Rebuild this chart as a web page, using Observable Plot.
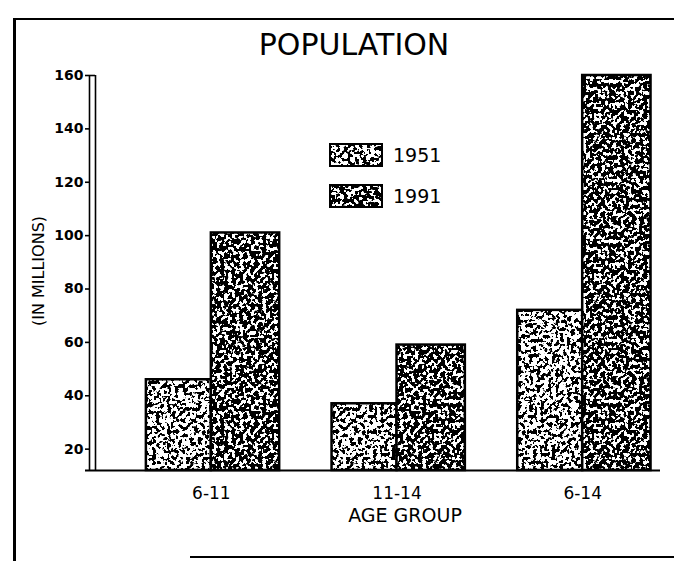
<!DOCTYPE html>
<html>
<head>
<meta charset="utf-8">
<script src="https://cdn.jsdelivr.net/npm/d3@7"></script>
<script src="https://cdn.jsdelivr.net/npm/@observablehq/plot@0.6"></script>
<style>
  html, body { margin: 0; padding: 0; background: #fff; }
  #wrap { position: relative; width: 674px; height: 561px; overflow: hidden; font-family: "DejaVu Sans", sans-serif; }
  #chart { position: absolute; left: 0; top: 0; }
  .bl { position: absolute; background: #000; }
  #legend { position: absolute; left: 329px; top: 143px; font-size: 19px; color: #000; }
  #legend .row { display: flex; align-items: center; height: 24px; margin-bottom: 17px; }
  #legend svg { display: block; margin-right: 10px; }
</style>
</head>
<body>
<svg width="0" height="0" style="position:absolute">
  <defs>
    <filter id="f1951" x="0" y="0" width="1" height="1" color-interpolation-filters="sRGB">
      <feTurbulence type="fractalNoise" baseFrequency="0.26" numOctaves="2" seed="4" stitchTiles="stitch"/>
      <feColorMatrix type="matrix" values="0 0 0 0 0  0 0 0 0 0  0 0 0 0 0  -40 0 0 0 19.4"/>
    </filter>
    <filter id="f1991" x="0" y="0" width="1" height="1" color-interpolation-filters="sRGB">
      <feTurbulence type="fractalNoise" baseFrequency="0.26" numOctaves="2" seed="9" stitchTiles="stitch"/>
      <feColorMatrix type="matrix" values="0 0 0 0 0  0 0 0 0 0  0 0 0 0 0  -40 0 0 0 21.8"/>
    </filter>
    <pattern id="pat1951" patternUnits="userSpaceOnUse" width="160" height="160">
      <rect width="160" height="160" fill="#fff"/>
      <rect width="160" height="160" filter="url(#f1951)"/>
    </pattern>
    <pattern id="pat1991" patternUnits="userSpaceOnUse" width="160" height="160">
      <rect width="160" height="160" fill="#fff"/>
      <rect width="160" height="160" filter="url(#f1991)"/>
    </pattern>
  </defs>
</svg>
<div id="wrap">
  <div id="chart"></div>
  <div class="bl" style="left:13px;top:18px;width:3px;height:543px"></div>
  <div class="bl" style="left:13px;top:18px;width:661px;height:2px"></div>
  <div class="bl" style="left:190px;top:556px;width:484px;height:2px"></div>
  <div id="legend"></div>
</div>
<script>
// ---- data ----
const groups = ["6-11", "11-14", "6-14"];
const years = ["1951", "1991"];
const pop1951 = [46, 37, 72];
const pop1991 = [101, 59, 160];
const yTicks = [20, 40, 60, 80, 100, 120, 140, 160];
const yAxisStart = 12;
const title = "POPULATION";
const yLabel = "(IN MILLIONS)";
const xLabel = "AGE GROUP";
const fills = {"1951": "url(#pat1951)", "1991": "url(#pat1991)"};

// ---- table built from arrays ----
const w1951 = 0.35, w1991 = 0.368;
const rows = groups.flatMap((g, i) => [
  {group: g, i, year: "1951", x1: i - w1951, x2: i, value: pop1951[i]},
  {group: g, i, year: "1991", x1: i, x2: i + w1991, value: pop1991[i]}
]);
const xDomain = [-0.624, 2.419];

const chart = Plot.plot({
  width: 674,
  height: 561,
  marginTop: 75,
  marginBottom: 91,
  marginLeft: 95,
  marginRight: 14,
  style: {background: "transparent", fontFamily: "DejaVu Sans, sans-serif", color: "#000"},
  x: {domain: xDomain, axis: null},
  y: {domain: [yAxisStart, 160], axis: null},
  marks: [
    Plot.rectY(rows, {x1: "x1", x2: "x2", y1: yAxisStart, y2: "value", fill: d => fills[d.year], stroke: "#000", strokeWidth: 2.5}),
    Plot.ruleX([xDomain[0]], {stroke: "#000", strokeWidth: 1.6}),
    Plot.ruleX([xDomain[0]], {stroke: "#000", strokeWidth: 1.6, dx: -6}),
    Plot.ruleY([160], {x1: xDomain[0], x2: xDomain[0], insetLeft: -6, stroke: "#000", strokeWidth: 1.6}),
    Plot.ruleY([yAxisStart], {insetLeft: -10, stroke: "#000", strokeWidth: 2}),
    Plot.axisY({ticks: yTicks, tickSize: 4, tickPadding: 2, dx: -6, fontSize: 14, fontWeight: "bold", label: null, strokeWidth: 1.6}),
    Plot.axisX({ticks: [0, 1, 2], tickSize: 0, tickPadding: 16, tickFormat: i => groups[i], fontSize: 17, label: null, style: "letter-spacing:1px"}),
    Plot.text([xLabel], {x: 1, frameAnchor: "bottom", dy: 51, dx: 8, fontSize: 19, style: "letter-spacing:4px"}),
    Plot.text([yLabel], {frameAnchor: "left", rotate: -90, textAnchor: "middle", dx: -57, dy: -2, fontSize: 16, style: "letter-spacing:1.8px"}),
    Plot.text([title], {frameAnchor: "top", lineAnchor: "middle", dx: -24, dy: -30, fontSize: 30, style: "letter-spacing:4px"})
  ]
});
document.getElementById("chart").appendChild(chart);

// ---- legend (HTML overlay) ----
const legend = document.getElementById("legend");
for (const y of years) {
  const row = document.createElement("div");
  row.className = "row";
  const sw = d3.create("svg").attr("width", 54).attr("height", 24);
  sw.append("rect").attr("x", 1).attr("y", 1).attr("width", 52).attr("height", 22)
    .attr("fill", fills[y]).attr("stroke", "#000").attr("stroke-width", 2);
  row.appendChild(sw.node());
  const t = document.createElement("span");
  t.textContent = y;
  row.appendChild(t);
  legend.appendChild(row);
}
</script>
</body>
</html>
